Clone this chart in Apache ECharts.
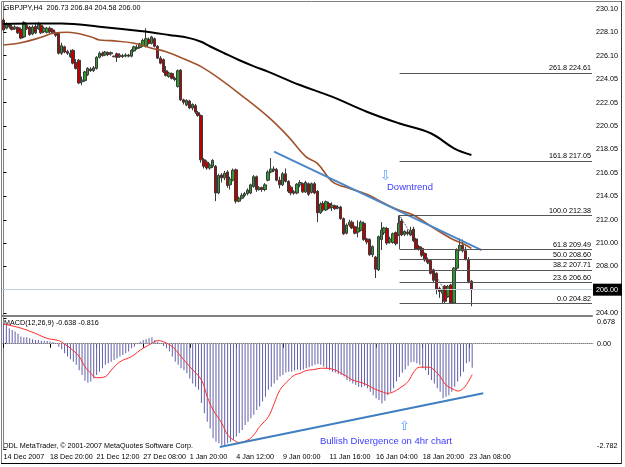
<!DOCTYPE html>
<html><head><meta charset="utf-8">
<script src="https://cdn.jsdelivr.net/npm/echarts/dist/echarts.min.js"></script>
<style>html,body{margin:0;padding:0;background:#fff}#c{width:625px;height:467px}</style>
</head><body><div id="c"></div>
<script>
// ---- Data (GBPJPY H4) ----
const timeLabels = ["14 Dec 2007","18 Dec 20:00","21 Dec 12:00","27 Dec 08:00","1 Jan 20:00","4 Jan 12:00","9 Jan 00:00","11 Jan 16:00","16 Jan 04:00","18 Jan 20:00","23 Jan 08:00"];
const priceTicks = [230.10,228.10,226.10,224.05,222.05,220.05,218.05,216.05,214.05,212.00,210.00,208.00,206.00,204.00];
const macdTicks = [0.678,0,-2.782];
const lastPrice = 206.00;

const candleOpen = [229.15,228.45,228.80,228.55,228.40,228.50,228.35,227.70,228.70,228.55,227.95,228.60,228.40,228.70,228.15,228.10,228.45,228.30,228.05,228.00,
226.30,226.85,226.45,226.30,226.55,225.50,225.70,223.85,223.95,224.45,224.95,224.80,225.00,225.95,226.30,226.15,226.35,226.25,226.00,226.25,
226.00,226.10,226.05,226.15,226.05,226.50,226.80,226.80,226.95,226.90,227.50,227.15,227.55,226.90,225.88,225.75,224.80,224.30,224.55,224.15,
223.45,224.85,222.30,221.85,222.20,221.60,221.80,221.20,220.95,217.15,216.95,216.45,216.60,216.60,214.30,215.85,215.60,216.10,215.00,215.40,
216.30,213.60,213.85,214.10,214.25,214.30,214.85,215.70,214.60,214.75,214.60,215.40,216.10,216.35,216.30,215.40,215.00,215.95,215.30,214.80,
214.40,214.30,215.00,215.10,214.40,215.10,214.35,215.10,214.45,212.60,213.40,212.85,213.40,213.05,213.20,213.00,213.10,212.10,210.85,211.55,
211.80,211.40,210.95,211.10,211.70,210.35,210.30,209.00,208.80,207.70,210.30,210.90,211.25,210.10,210.05,210.90,210.70,211.90,210.75,210.95,
210.70,211.20,210.35,209.70,209.55,209.10,208.60,208.50,207.70,207.40,206.10,205.70,206.30,205.40,206.40,204.85,207.85,209.40,209.80,209.35,
208.60,206.73];
const candleClose = [228.30,228.75,228.55,228.35,228.55,228.05,227.60,228.95,228.40,227.90,228.55,228.05,228.80,228.05,228.45,228.45,228.15,228.05,227.85,226.30,
226.95,226.40,226.30,226.00,225.45,225.00,223.75,224.00,224.70,225.00,224.80,225.05,225.95,226.30,226.10,226.40,226.20,226.35,226.05,225.95,
226.15,226.00,226.15,226.05,226.55,226.85,226.70,227.10,227.40,227.55,227.15,227.70,226.90,225.88,225.45,224.70,224.40,224.60,224.15,224.05,
224.80,222.30,222.10,222.25,221.60,221.90,221.25,220.95,217.15,216.60,216.45,216.70,217.10,214.30,215.80,215.60,216.00,214.95,215.50,216.25,
213.60,213.85,214.10,214.25,214.55,215.00,215.70,214.60,214.75,214.60,215.00,216.10,216.35,216.25,215.40,215.00,215.95,215.30,214.45,214.30,
214.30,215.05,215.20,214.40,215.20,214.20,215.10,214.30,212.60,213.35,212.85,213.55,213.00,213.25,212.95,213.10,212.10,210.80,211.55,211.80,
211.30,210.85,211.30,211.80,210.30,210.10,209.00,209.70,207.75,210.55,211.10,211.30,210.00,210.35,210.80,209.95,211.70,210.70,211.00,210.80,
211.10,210.20,209.50,209.50,208.95,208.55,208.35,207.40,206.80,206.00,205.85,205.97,205.00,206.25,204.85,207.85,209.40,209.80,209.35,208.60,
206.70,206.00];
const candleLow = [228.15,228.35,228.40,228.25,228.30,227.95,227.50,227.60,228.30,227.80,227.85,227.95,228.30,227.95,228.05,228.00,228.00,227.95,227.70,226.20,
226.15,226.30,226.15,225.90,225.35,224.90,223.65,223.55,223.85,224.35,224.70,224.70,224.90,225.85,226.00,226.05,226.05,226.10,225.95,225.55,
225.90,225.90,225.95,225.95,225.95,226.40,226.60,226.70,226.85,226.80,227.05,227.05,226.80,225.80,225.35,224.60,224.30,224.20,224.05,223.90,
223.35,222.20,221.90,221.75,221.50,221.40,221.10,220.85,216.90,216.40,216.30,216.30,216.45,213.60,214.20,215.20,215.40,214.75,214.60,215.30,
213.40,213.50,213.75,213.95,214.10,214.20,214.75,214.40,214.50,214.40,214.45,215.30,216.00,216.10,215.30,214.70,214.90,215.20,214.30,214.10,
214.15,214.20,214.80,214.30,214.30,214.05,214.25,214.20,211.80,212.50,212.70,212.75,212.90,212.75,212.85,212.90,212.00,210.70,210.75,211.40,
211.20,210.75,210.50,211.00,210.20,209.90,208.90,208.80,207.00,207.60,209.40,210.70,209.85,209.95,209.95,209.80,210.60,210.60,210.60,210.65,
210.60,210.10,209.40,209.35,208.80,208.40,208.20,207.30,206.60,205.60,205.30,204.83,204.85,205.30,204.82,204.82,207.70,209.30,209.20,208.50,
206.55,204.58];
const candleHigh = [229.30,228.95,228.90,228.75,228.70,228.60,228.50,229.05,228.85,228.65,228.70,228.80,229.00,228.80,228.60,228.55,228.60,228.45,228.15,228.05,
227.20,226.95,226.60,226.60,226.65,225.80,225.80,224.30,224.80,225.10,225.10,225.20,226.05,226.45,226.45,226.50,226.45,226.45,226.10,226.35,
226.30,226.25,226.30,226.25,226.65,226.95,227.00,227.20,227.55,228.44,227.65,227.80,227.65,227.00,226.05,225.85,225.20,224.72,224.65,224.30,
224.90,224.95,222.40,222.35,222.30,222.00,221.95,221.35,221.05,217.30,217.10,216.85,217.20,216.70,215.95,216.00,216.20,216.25,215.70,216.40,
216.40,214.00,214.30,214.40,214.70,215.10,215.85,215.80,214.90,214.85,215.15,216.25,217.30,216.60,216.45,215.70,216.10,216.40,215.40,214.95,
214.55,215.15,215.40,215.20,215.35,215.20,215.20,215.25,214.55,213.50,213.60,213.65,213.55,213.50,213.30,213.25,213.20,212.20,211.70,212.00,
211.95,211.50,211.95,211.95,211.85,210.45,210.40,209.80,208.90,210.65,211.80,211.40,211.40,210.55,210.90,211.00,212.38,212.10,211.10,211.15,
211.40,211.40,210.45,209.85,209.70,209.20,208.75,208.60,207.80,207.50,206.25,206.10,206.40,206.40,206.50,207.95,209.55,210.40,210.30,209.70,
208.80,206.84];

// moving averages read at sample bars
const maBlackBar = [0,10,20,33,47,57,64,68,71,76,81,86,91,102,113,125,136,147,155,161];
const maBlackVal = [228.82,228.85,228.85,228.58,228.21,227.87,227.60,227.29,226.90,226.30,225.72,225.20,224.72,223.57,222.57,221.28,220.29,219.43,218.14,217.57];
const maBrownBar = [0,6,13,17,22,30,33,37,45,51,56,63,68,75,81,91,98,104,108,113,117,125,131,136,141,148,154,159,161];
const maBrownVal = [227.01,227.20,227.67,228.01,228.10,227.72,227.44,227.38,227.16,226.73,226.43,225.72,225.15,224.00,222.86,220.85,219.14,217.42,216.85,215.30,214.85,214.20,213.42,212.84,212.41,211.30,210.40,209.84,209.55];
const trendBar = [93.1,164.5];
const trendVal = [217.85,209.40];

// Fibonacci object
const fibRatios = ["261.8","161.8","100.0","61.8","50.0","38.2","23.6","0.0"];
const fibLevels = [224.61,217.05,212.38,209.49,208.60,207.71,206.60,204.82];
const fibStartBar = 136.3;
const fibEndBar = 154.5;

// MACD(12,26,9)
const macdHist = [0.52,0.49,0.41,0.36,0.32,0.26,0.19,0.17,0.17,0.14,0.12,0.10,0.10,0.08,0.08,0.07,0.06,0.045,0.01,-0.08,
-0.15,-0.25,-0.34,-0.41,-0.48,-0.56,-0.70,-0.83,-0.98,-1.03,-1.00,-0.92,-0.83,-0.74,-0.65,-0.56,-0.52,-0.48,-0.43,-0.39,
-0.34,-0.30,-0.25,-0.21,-0.12,-0.08,0.01,0.05,0.10,0.12,0.14,0.17,0.10,0.05,0.01,-0.06,-0.12,-0.21,-0.34,-0.48,
-0.56,-0.65,-0.70,-0.78,-0.92,-1.05,-1.14,-1.22,-1.57,-1.84,-2.06,-2.24,-2.50,-2.59,-2.63,-2.68,-2.68,-2.63,-2.59,-2.54,
-2.45,-2.36,-2.28,-2.15,-2.06,-1.97,-1.88,-1.75,-1.66,-1.53,-1.40,-1.22,-1.14,-1.05,-0.96,-0.87,-0.83,-0.76,-0.74,-0.74,
-0.71,-0.68,-0.70,-0.68,-0.65,-0.62,-0.59,-0.56,-0.54,-0.56,-0.61,-0.65,-0.70,-0.74,-0.76,-0.80,-0.83,-0.87,-0.96,-1.00,
-1.05,-1.09,-1.14,-1.15,-1.12,-1.18,-1.27,-1.36,-1.44,-1.49,-1.58,-1.51,-1.36,-1.27,-1.18,-1.00,-0.88,-0.77,-0.68,-0.58,
-0.49,-0.48,-0.52,-0.56,-0.65,-0.70,-0.83,-0.96,-1.05,-1.18,-1.27,-1.44,-1.40,-1.36,-1.27,-1.14,-1.00,-0.87,-0.74,-0.52,
-0.48,-0.638];
const signalBar = [0,6,11,15,19,21,23,26,28,30,32,35,37,40,44,47,51,53,55,58,61,64,68,70,72,75,77,79,81,84,86,88,91,93,95,98,100,102,104,107,109,111,114,116,118,120,123,125,127,130,132,134,136,139,141,143,146,148,150,152,155,156,158,160,161];
const signalVal = [0.52,0.41,0.27,0.14,0.08,-0.01,-0.12,-0.34,-0.61,-0.78,-0.90,-0.87,-0.70,-0.48,-0.34,-0.17,0.01,0.08,0.05,-0.08,-0.34,-0.61,-0.96,-1.40,-1.75,-2.10,-2.41,-2.54,-2.61,-2.54,-2.41,-2.19,-1.93,-1.58,-1.22,-0.96,-0.83,-0.78,-0.71,-0.68,-0.65,-0.65,-0.70,-0.78,-0.87,-0.96,-1.03,-1.09,-1.18,-1.27,-1.31,-1.27,-1.18,-1.00,-0.74,-0.62,-0.62,-0.70,-0.87,-1.09,-1.22,-1.25,-1.18,-0.96,-0.816];
const divBar = [74.3,164.8];
const divVal = [-2.73,-1.31];

// ---- Chart ----
const N = 203;
const cats = Array.from({length:N},(_,i)=>String(i));
const candleData = candleOpen.map((o,i)=>[o,candleClose[i],candleLow[i],candleHigh[i]]);
const zip = (a,b)=>a.map((x,i)=>[x,b[i]]);
const FONT = "'Liberation Sans',Arial,sans-serif";
const FS = 7.2;
const tickShow = i => i%16===0 && i<=160;

const fibMark = fibLevels.map((lv,k)=>[
  {coord:[fibStartBar,lv], label:{show:true, formatter: fibRatios[k]+' '+lv.toFixed(2)}},
  {coord:[N-0.5,lv]}
]);
fibMark.push([{coord:[fibStartBar,fibLevels[2]], lineStyle:{type:'dotted',color:'#333'}, label:{show:false}},{coord:[fibEndBar,fibLevels[7]]}]);
fibMark.push([{coord:[fibStartBar,fibLevels[2]], label:{show:false}},{coord:[fibStartBar,fibLevels[3]]}]);

const chart = echarts.init(document.getElementById('c'), null, {renderer:'canvas'});
chart.setOption({
  animation:false,
  backgroundColor:'#fff',
  grid:[{left:2,top:2,width:591,height:314},{left:2,top:318,width:591,height:131}],
  xAxis:[
    {type:'category',gridIndex:0,data:cats,axisLine:{show:true,lineStyle:{color:'#808080',width:2}},axisTick:{show:false},axisLabel:{show:false},splitLine:{show:false}},
    {type:'value',gridIndex:0,min:-0.5,max:N-0.5,show:false},
    {type:'category',gridIndex:1,data:cats,
      axisLine:{show:true,lineStyle:{color:'#808080'}},
      axisTick:{show:true,alignWithLabel:true,interval:(i)=>tickShow(i),length:4,lineStyle:{color:'#000'}},
      axisLabel:{interval:(i)=>tickShow(i),formatter:(v,i)=>timeLabels[Math.round(+v/16)]||'',align:'left',margin:5,fontSize:FS,fontFamily:FONT,color:'#000'},
      splitLine:{show:false}},
    {type:'value',gridIndex:1,min:-0.5,max:N-0.5,show:false}
  ],
  yAxis:[
    {type:'value',gridIndex:0,position:'right',min:203.74,max:230.70,scale:true,
      axisLine:{show:true,lineStyle:{color:'#808080'}},
      axisTick:{show:true,customValues:priceTicks,length:3,lineStyle:{color:'#000'}},
      axisLabel:{customValues:priceTicks,margin:1,fontSize:FS,fontFamily:FONT,color:'#000',
        formatter:v=>Math.abs(v-lastPrice)<1e-6?'{box|'+v.toFixed(2)+'}':'{n|'+v.toFixed(2)+'}',
        rich:{n:{padding:[0,0,0,3],fontSize:FS,fontFamily:FONT,color:'#000'},
              box:{backgroundColor:'#000',color:'#fff',padding:[3,4,2,3],fontSize:FS,fontFamily:FONT}}},
      splitLine:{show:false}},
    {type:'value',gridIndex:1,position:'right',min:-2.782,max:0.678,
      axisLine:{show:true,lineStyle:{color:'#808080'}},
      axisTick:{show:true,customValues:macdTicks,length:3,lineStyle:{color:'#000'}},
      axisLabel:{customValues:macdTicks,margin:1,fontSize:FS,fontFamily:FONT,color:'#000',
        formatter:v=>v>0.5?'{t|'+v.toFixed(3)+'}':(v<-2?'{b|'+v.toFixed(3)+'}':'{n|'+v.toFixed(2)+'}'),
        rich:{n:{padding:[0,0,0,3],fontSize:FS,fontFamily:FONT},t:{padding:[9,0,0,3],fontSize:FS,fontFamily:FONT},b:{padding:[0,0,5,3],fontSize:FS,fontFamily:FONT}}},
      splitLine:{show:false}}
  ],
  series:[
    {type:'candlestick',xAxisIndex:0,yAxisIndex:0,data:candleData,barWidth:3,
      itemStyle:{color:'#2f9a2f',color0:'#c00000',borderColor:'#3a3a3a',borderColor0:'#3a3a3a',borderWidth:1},
      markLine:{silent:true,symbol:'none',label:{show:false},lineStyle:{color:'#c3cedb',type:'solid',width:1},data:[{yAxis:lastPrice}]}},
    {type:'line',xAxisIndex:1,yAxisIndex:0,data:zip(maBlackBar,maBlackVal),smooth:0.4,showSymbol:false,lineStyle:{color:'#000',width:2}},
    {type:'line',xAxisIndex:1,yAxisIndex:0,data:zip(maBrownBar,maBrownVal),smooth:0.4,showSymbol:false,lineStyle:{color:'#a0522d',width:1.6}},
    {type:'line',xAxisIndex:1,yAxisIndex:0,data:zip(trendBar,trendVal),showSymbol:false,lineStyle:{color:'#4a86c8',width:2}},
    {type:'line',xAxisIndex:1,yAxisIndex:0,data:[],
      markLine:{silent:true,symbol:'none',lineStyle:{color:'#555',type:'solid',width:1},
        label:{position:'insideEndTop',distance:[1,1],fontSize:FS,fontFamily:FONT,color:'#000'},
        data:fibMark}},
    {type:'bar',xAxisIndex:2,yAxisIndex:1,data:macdHist,barWidth:1,itemStyle:{color:'#5f5fa8'},
      markLine:{silent:true,symbol:'none',label:{show:false},lineStyle:{color:'#b0b0b0',type:'dotted',width:1},data:[{yAxis:0}]}},
    {type:'line',xAxisIndex:3,yAxisIndex:1,data:zip(signalBar,signalVal),smooth:0.4,showSymbol:false,lineStyle:{color:'#ff2a2a',width:1}},
    {type:'line',xAxisIndex:3,yAxisIndex:1,data:zip(divBar,divVal),showSymbol:false,lineStyle:{color:'#3f7fbf',width:2}}
  ],
  graphic:[
    {type:'rect',shape:{x:1.5,y:1.5,width:620,height:462},style:{fill:null,stroke:'#808080',lineWidth:1},silent:true},
    {type:'line',shape:{x1:1,y1:463.5,x2:622,y2:463.5},style:{stroke:'#000',lineWidth:1}},
    {type:'line',shape:{x1:621.5,y1:1,x2:621.5,y2:464},style:{stroke:'#404040',lineWidth:1}},
    {type:'text',left:4,top:5,style:{text:'GBPJPY,H4  206.73 206.84 204.58 206.00',font:FS+'px '+FONT,fill:'#000'}},
    {type:'text',left:4,top:320,style:{text:'MACD(12,26,9) -0.638 -0.816',font:FS+'px '+FONT,fill:'#000'}},
    {type:'text',left:3,top:443,style:{text:'ODL MetaTrader, © 2001-2007 MetaQuotes Software Corp.',font:FS+'px '+FONT,fill:'#000'}},
    {type:'text',left:380,top:170,style:{text:'⇩',font:'13px DejaVu Sans',fill:'#5aa0ff'}},
    {type:'text',left:387,top:182,style:{text:'Downtrend',font:'9.5px '+FONT,fill:'#3b3bff'}},
    {type:'text',left:399,top:420,style:{text:'⇧',font:'13px DejaVu Sans',fill:'#5aa0ff'}},
    {type:'text',left:320,top:436,style:{text:'Bullish Divergence on 4hr chart',font:'9.5px '+FONT,fill:'#3b3bff'}}
  ]
});
</script>
</body></html>
